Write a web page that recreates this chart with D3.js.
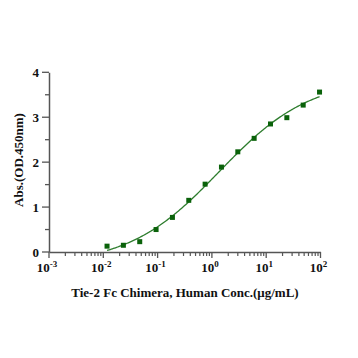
<!DOCTYPE html>
<html><head><meta charset="utf-8">
<script src="https://cdn.jsdelivr.net/npm/d3@7"></script>
<style>body{margin:0;background:#fff}svg{display:block}</style>
</head><body>
<script>
// Data
const concentrations = [0.01171875,0.0234375,0.046875,0.09375,0.1875,0.375,0.75,1.5,3,6,12,24,48,96];
const absorbance = [0.13,0.15,0.23,0.50,0.77,1.15,1.51,1.89,2.23,2.53,2.85,2.99,3.27,3.56];
// initial guess for 4PL fit: bottom, top, log10 EC50, hill slope
const fitGuess = [-0.3, 4.0, 0.2, 0.5];
const xTickExps = [-3,-2,-1,0,1,2];
const yTicks = [0,1,2,3,4];
const xTitle = "Tie-2 Fc Chimera, Human Conc.(\u03bcg/mL)";
const yTitle = "Abs.(OD.450nm)";

// 4PL least-squares fit (Nelder-Mead)
const model=(p,c)=>p[0]+(p[1]-p[0])/(1+Math.pow(10,p[3]*(p[2]-Math.log10(c))));
const sse=p=>d3.sum(concentrations,(c,i)=>(model(p,c)-absorbance[i])**2);
function nelderMead(f,x0){
  const n=x0.length;
  let pts=[x0.slice()];
  for(let i=0;i<n;i++){const p=x0.slice();p[i]+=Math.abs(p[i])*0.2+0.1;pts.push(p);}
  let vals=pts.map(f);
  for(let it=0;it<4000;it++){
    const idx=d3.range(n+1).sort((a,b)=>vals[a]-vals[b]);
    pts=idx.map(i=>pts[i]);vals=idx.map(i=>vals[i]);
    const cen=d3.range(n).map(j=>d3.mean(pts.slice(0,n),p=>p[j]));
    const w=pts[n];
    const xr=cen.map((c,j)=>c+(c-w[j]));const fr=f(xr);
    if(fr<vals[0]){const xe=cen.map((c,j)=>c+2*(c-w[j]));const fe=f(xe);
      if(fe<fr){pts[n]=xe;vals[n]=fe;}else{pts[n]=xr;vals[n]=fr;}}
    else if(fr<vals[n-1]){pts[n]=xr;vals[n]=fr;}
    else{const xc=cen.map((c,j)=>c+0.5*(w[j]-c));const fc=f(xc);
      if(fc<vals[n]){pts[n]=xc;vals[n]=fc;}
      else{for(let i=1;i<=n;i++){pts[i]=pts[i].map((v,j)=>pts[0][j]+0.5*(v-pts[0][j]));vals[i]=f(pts[i]);}}}
  }
  return pts[d3.minIndex(vals)];
}
const fit=nelderMead(sse,fitGuess);

const W=358,H=358;
const svg=d3.select("body").append("svg").attr("width",W).attr("height",H);
const x=d3.scaleLog().domain([1e-3,1e2]).range([49,320.5]);
const y=d3.scaleLinear().domain([0,4]).range([252,72.3]);
const axisColor="#555";
const font="'Liberation Serif','Times New Roman',serif";

// y axis
const yMinor=d3.range(0,4.01,0.5);
const ya=svg.append("g").attr("transform","translate(49,0)")
 .call(d3.axisLeft(y).tickValues(yMinor).tickSize(0).tickFormat(""));
ya.select(".domain").attr("stroke",axisColor).attr("stroke-width",1.5);
svg.selectAll(".ytick").data(yMinor).enter().append("line")
 .attr("x1",d=>Number.isInteger(d)?42:45).attr("x2",49)
 .attr("y1",d=>y(d)).attr("y2",d=>y(d)).attr("stroke",axisColor).attr("stroke-width",1.3);
svg.selectAll(".ylab").data(yTicks).enter().append("text")
 .attr("x",39).attr("y",d=>y(d)+4.5).attr("text-anchor","end")
 .attr("font-family",font).attr("font-weight","bold").attr("font-size",13).attr("fill","#111")
 .text(d=>d);

// x axis
const xa=svg.append("g").attr("transform","translate(0,252)")
 .call(d3.axisBottom(x).tickValues([]).tickSize(0).tickSizeOuter(0).tickFormat(""));
xa.select(".domain").attr("stroke",axisColor).attr("stroke-width",1.5);
const xMinor=[];
for(let e=-3;e<2;e++){for(let m=2;m<=9;m++)xMinor.push(m*Math.pow(10,e));}
const xMajor=xTickExps.map(e=>Math.pow(10,e));
svg.selectAll(".xminor").data(xMinor).enter().append("line")
 .attr("x1",d=>x(d)).attr("x2",d=>x(d)).attr("y1",252).attr("y2",256)
 .attr("stroke",axisColor).attr("stroke-width",1.2);
svg.selectAll(".xmajor").data(xMajor).enter().append("line")
 .attr("x1",d=>x(d)).attr("x2",d=>x(d)).attr("y1",252).attr("y2",258)
 .attr("stroke",axisColor).attr("stroke-width",1.3);
const xl=svg.selectAll(".xlab").data(xTickExps).enter().append("text")
 .attr("x",d=>x(Math.pow(10,d))-2).attr("y",272).attr("text-anchor","middle")
 .attr("font-family",font).attr("font-weight","bold").attr("font-size",13).attr("fill","#111");
xl.append("tspan").text("10");
xl.append("tspan").attr("dy",-5).attr("font-size",9).text(d=>(d<0?"-":"")+Math.abs(d));

// titles
svg.append("text").attr("x",185).attr("y",297).attr("text-anchor","middle")
 .attr("font-family",font).attr("font-weight","bold").attr("font-size",13).attr("fill","#111").text(xTitle);
svg.append("text").attr("transform","translate(23,160) rotate(-90)").attr("text-anchor","middle")
 .attr("font-family",font).attr("font-weight","bold").attr("font-size",13).attr("fill","#111").text(yTitle);

// fit curve
const lo=d3.min(concentrations),hi=d3.max(concentrations);
const curve=d3.range(0,201).map(i=>Math.pow(10,Math.log10(lo)+(Math.log10(hi)-Math.log10(lo))*i/200));
svg.append("path").datum(curve)
 .attr("d",d3.line().x(d=>x(d)).y(d=>y(model(fit,d))))
 .attr("fill","none").attr("stroke","#2e7d2e").attr("stroke-width",1.3);

// points
svg.selectAll(".pt").data(concentrations).enter().append("rect")
 .attr("x",(d)=>x(d)-2.5).attr("y",(d,i)=>y(absorbance[i])-2.5)
 .attr("width",5).attr("height",5).attr("fill","#0a620a");
</script>
</body></html>
